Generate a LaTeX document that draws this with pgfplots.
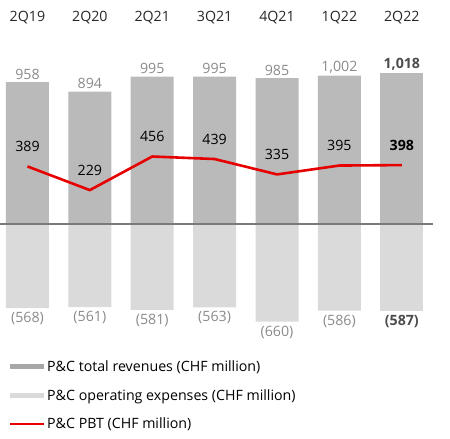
\documentclass[border=0pt]{standalone}
\usepackage{pgfplots}
\pgfplotsset{compat=1.18}
\usepackage{fontspec}
\setmainfont{Open Sans}
\definecolor{revgrey}{HTML}{BABABA}
\definecolor{expgrey}{HTML}{DADADA}
\definecolor{pbtred}{HTML}{E60000}
\definecolor{labgrey}{HTML}{8A8A8A}
\definecolor{zerogrey}{HTML}{7A7A7A}
\newcommand\cf{\fontsize{14.2}{16}\selectfont}
\begin{document}
\begin{tikzpicture}
\useasboundingbox (0,0) rectangle (450pt,439pt);
\begin{axis}[
  at={(0pt,96.6pt)}, anchor=south west,
  scale only axis, width=433pt, height=310.8pt,
  xmin=-0.44, xmax=6.5, ymin=-800, ymax=1300,
  ybar, bar width=43pt, bar shift=0pt,
  axis line style={draw=none}, major tick length=0pt,
  ytick=\empty,
  xtick={0,...,6},
  xticklabels={2Q19,2Q20,2Q21,3Q21,4Q21,1Q22,2Q22},
  xticklabel pos=upper,
  xticklabel style={font=\cf, text=black!85, yshift=4pt},
  clip=false,
  point meta=explicit symbolic,
  legend style={at={(rel axis cs:0,0)}, anchor=north west, draw=none, fill=none,
    font=\cf, xshift=6pt, yshift=-14pt, row sep=12.5pt},
  legend cell align=left,
]
% revenues
\addplot[fill=revgrey, draw=none, nodes near coords, every node near coord/.append style={font=\cf, text=labgrey, anchor=south, inner sep=2.5pt},
  legend image code/.code={\fill[revgrey!90!black] (0pt,-2.5pt) rectangle (34pt,2.5pt);}]
  coordinates {(0,958)[958] (1,894)[894] (2,995)[995] (3,995)[995] (4,985)[985] (5,1002)[1,002]};
\addlegendentry{P\&C total revenues (CHF million)}
\addplot[fill=revgrey, draw=none, forget plot, nodes near coords, every node near coord/.append style={font=\cf\bfseries, text=black!70, anchor=south, inner sep=2.5pt}]
  coordinates {(6,1018)[1,018]};
% operating expenses
\addplot[fill=expgrey, draw=none, nodes near coords, every node near coord/.append style={font=\cf, text=labgrey, anchor=north, inner sep=4pt},
  legend image code/.code={\fill[expgrey] (0pt,-2.5pt) rectangle (34pt,2.5pt);}]
  coordinates {(0,-568)[(568)] (1,-561)[(561)] (2,-581)[(581)] (3,-563)[(563)] (4,-660)[(660)] (5,-586)[(586)]};
\addlegendentry{P\&C operating expenses (CHF million)}
\addplot[fill=expgrey, draw=none, forget plot, nodes near coords, every node near coord/.append style={font=\cf\bfseries, text=black!70, anchor=north, inner sep=4pt}]
  coordinates {(6,-587)[(587)]};
% zero line
\addplot[sharp plot, zerogrey, line width=1.3pt, forget plot] coordinates {(-0.44,0) (6.5,0)};
% PBT
\addplot[sharp plot, pbtred, line width=2.6pt, line join=round,
  legend image code/.code={\draw[pbtred, line width=2pt] (0pt,0pt) -- (34pt,0pt);}]
  coordinates {(0,389) (1,229) (2,456) (3,439) (4,335) (5,395) (6,398)};
\addlegendentry{P\&C PBT (CHF million)}
\addplot[sharp plot, draw=none, forget plot, nodes near coords, every node near coord/.append style={font=\cf, text=black, anchor=south, yshift=11pt}]
  coordinates {(0,389)[389] (1,229)[229] (2,456)[456] (3,439)[439] (4,335)[335] (5,395)[395]};
\addplot[sharp plot, draw=none, forget plot, nodes near coords, every node near coord/.append style={font=\cf\bfseries, text=black, anchor=south, yshift=11pt}]
  coordinates {(6,398)[398]};
\end{axis}
\end{tikzpicture}
\end{document}
